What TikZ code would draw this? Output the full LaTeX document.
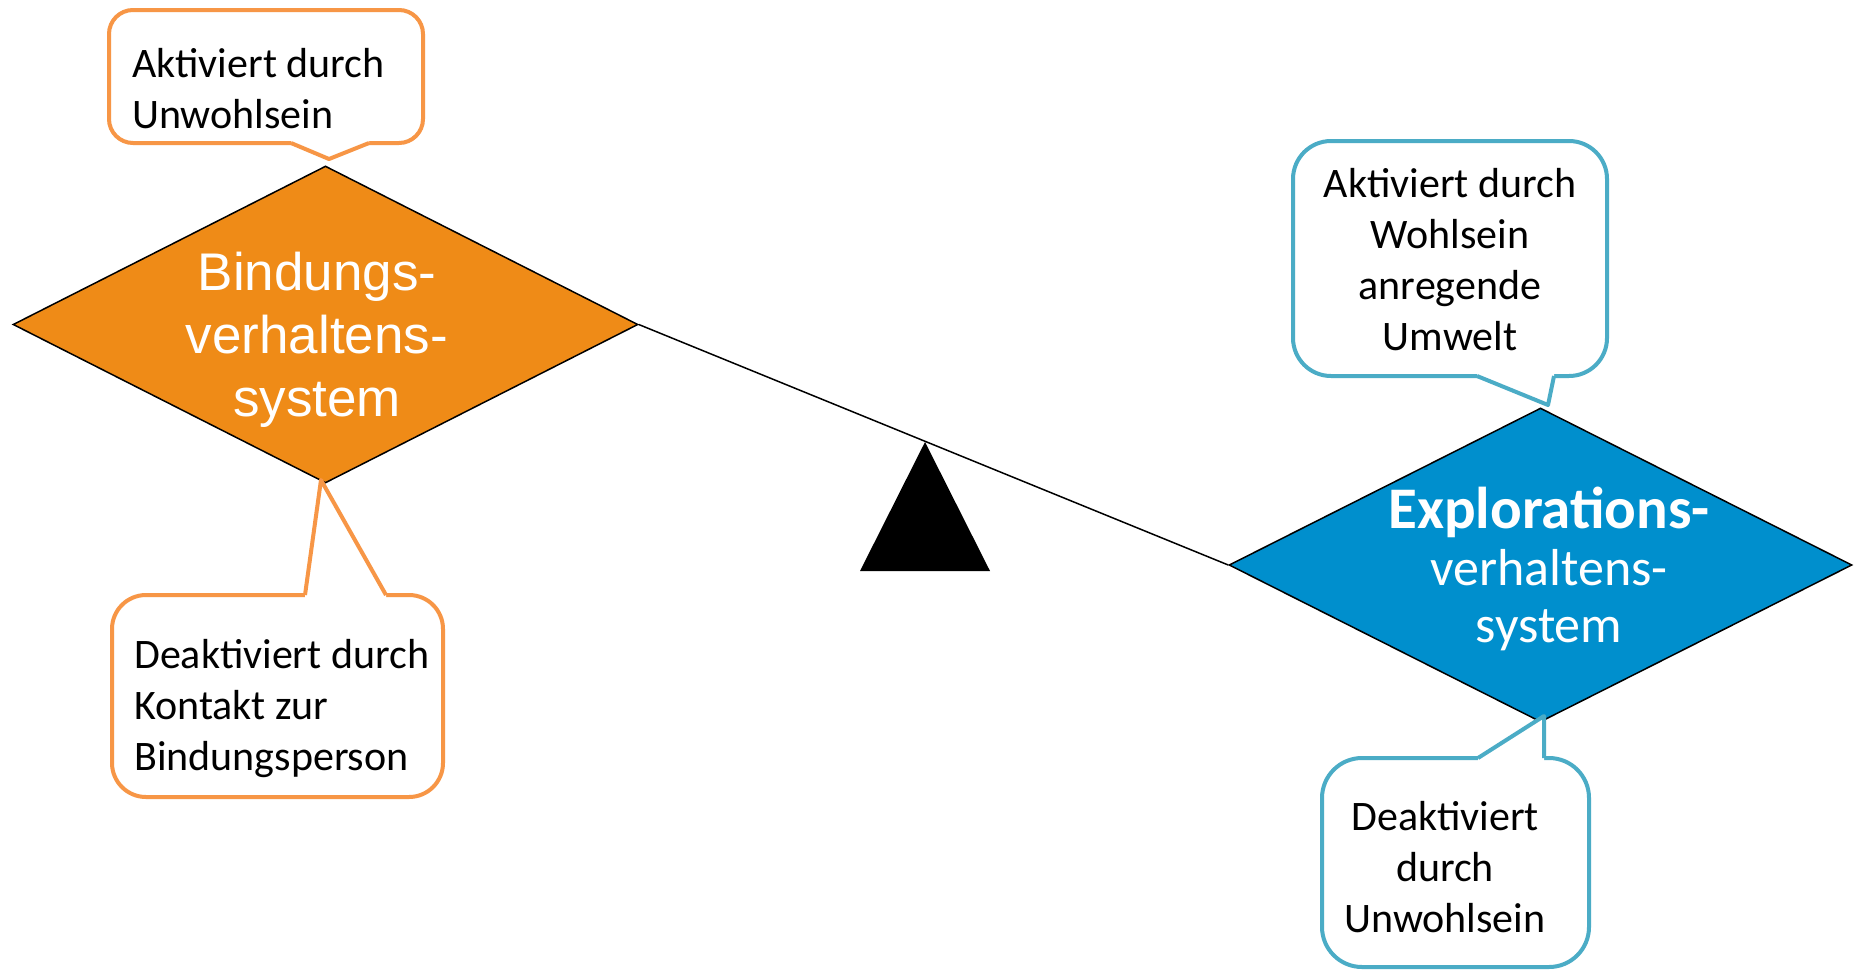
\documentclass[tikz,border=0pt]{standalone}
\usepackage{fontspec}
\setmainfont{Carlito}
\newfontfamily\arialfont{Liberation Sans}
\usetikzlibrary{shapes.geometric}
\definecolor{orfill}{HTML}{EF8B17}
\definecolor{blfill}{HTML}{008FCD}
\definecolor{orline}{HTML}{F79646}
\definecolor{blline}{HTML}{4BACC6}
\begin{document}
\begin{tikzpicture}[x=1pt,y=-1pt,
  sysbox/.style={diamond, draw=black, line width=1.5pt, inner sep=0pt},
  calloutline/.style={line width=4pt, fill=white, line join=round},
  pointerline/.style={line width=4pt, line join=round, line cap=butt},
  calltext/.style={font=\fontsize{42}{51}\selectfont, text=black, inner sep=0pt},
  systext/.style={text=white, inner sep=0pt, align=center}]
\useasboundingbox (0,0) rectangle (1862,972);
\fill[white] (0,0) rectangle (1862,972);

% diamonds
\node[sysbox, fill=orfill, minimum width=625pt, minimum height=317pt] (bind) at (325.5,324.5) {};
\node[sysbox, fill=blfill, minimum width=623pt, minimum height=314pt] (expl) at (1540.5,565) {};

\node[systext, font=\arialfont\fontsize{53}{63}\selectfont] (bindtext) at (317,340) {Bindungs-\\verhaltens-\\system};
\node[systext, font=\fontsize{52}{57}\selectfont] (expltext) at (1549,569) {{\bfseries\fontsize{59}{57}\selectfont Explorations-}\\verhaltens-\\system};

% seesaw
\draw[line width=1.5pt] (bind.east) -- (expl.west);
\fill[black] (925,442) -- (990,571) -- (860,571) -- cycle;

% callout top orange
\draw[calloutline, draw=orline, rounded corners=24pt] (109,10) rectangle (423,143);
\fill[white] (291,139) -- (291,143) -- (329,159) -- (369,143) -- (369,139) -- cycle;
\draw[pointerline, orline] (291,143) -- (329,159) -- (369,143);
\node[calltext, align=left, anchor=west] (c1) at (132,89) {Aktiviert durch\\Unwohlsein};

% callout bottom orange
\draw[calloutline, draw=orline, rounded corners=34pt] (112,595) rectangle (443,797);
\fill[white] (305,599) -- (305,595) -- (321,480) -- (386,595) -- (386,599) -- cycle;
\draw[pointerline, orline] (305,595) -- (321,480) -- (386,595);
\node[calltext, align=left, anchor=west] (c2) at (134,709) {Deaktiviert durch\\Kontakt zur\\Bindungsperson};

% callout top blue
\draw[calloutline, draw=blline, rounded corners=38pt] (1293,141) rectangle (1607,376);
\fill[white] (1477,372) -- (1477,376) -- (1548,405) -- (1554,376) -- (1554,372) -- cycle;
\draw[pointerline, blline] (1477,376) -- (1548,405) -- (1554,376);
\node[calltext, align=center] (c3) at (1450,260) {Aktiviert durch\\Wohlsein\\anregende\\Umwelt};

% callout bottom blue
\draw[calloutline, draw=blline, rounded corners=40pt] (1322,758) rectangle (1589,967);
\fill[white] (1478,762) -- (1478,758) -- (1544,716) -- (1544,762) -- cycle;
\draw[pointerline, blline] (1478,758) -- (1544,716) -- (1544,758);
\node[calltext, align=center] (c4) at (1445,867) {Deaktiviert\\durch\\Unwohlsein};
\end{tikzpicture}
\end{document}
